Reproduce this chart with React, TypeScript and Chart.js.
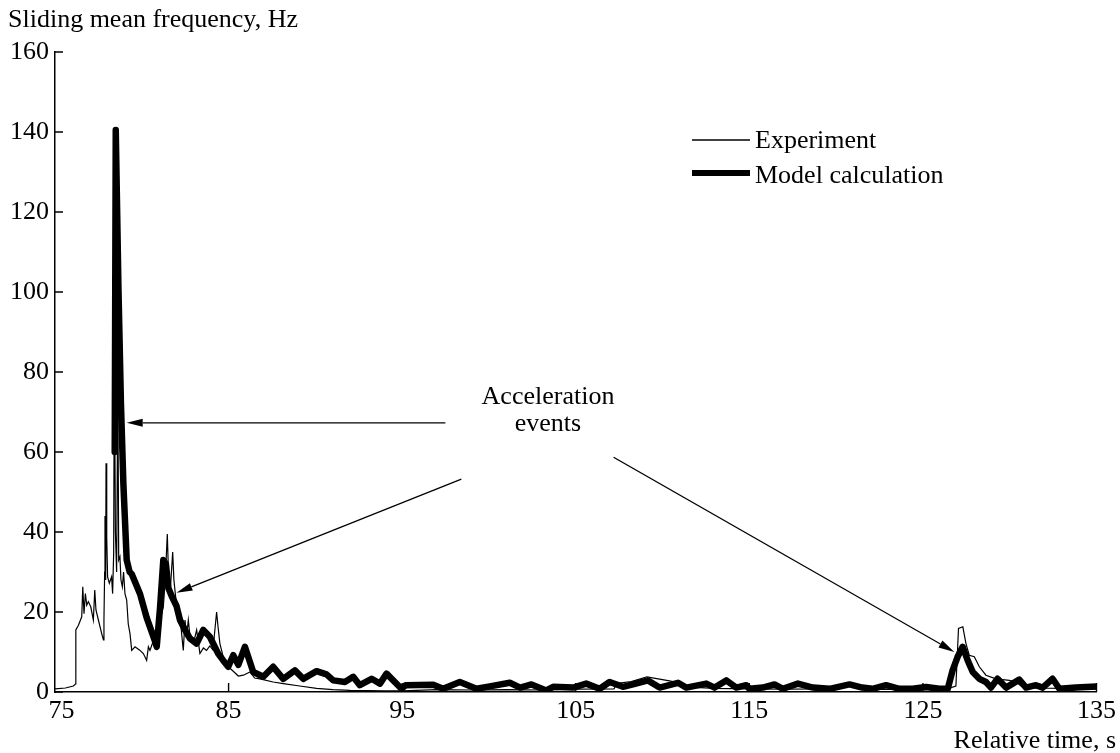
import React, { useEffect, useRef } from 'react';
import { Chart, registerables } from 'chart.js';

Chart.register(...registerables);

// ---------- data ----------
const expTime = [75, 75.6, 76.06, 76.18, 76.2, 76.35, 76.54, 76.6, 76.67, 76.75,
  76.83, 76.92, 77.06, 77.21, 77.29, 77.36, 77.5, 77.69, 77.79, 77.82,
  77.86, 77.88, 77.92, 77.94, 77.98, 78.03, 78.13, 78.26, 78.32, 78.38,
  78.42, 78.48, 78.55, 78.62, 78.67, 78.74, 78.8, 78.88, 78.95, 79.03,
  79.13, 79.22, 79.32, 79.42, 79.61, 79.9, 80.09, 80.28, 80.38, 80.47,
  80.6, 80.86, 81.05, 81.24, 81.35, 81.47, 81.55, 81.65, 81.78, 81.85,
  82.01, 82.2, 82.39, 82.49, 82.58, 82.68, 82.8, 82.97, 83.16, 83.35,
  83.55, 83.73, 83.92, 84.1, 84.31, 84.4, 84.5, 84.69, 84.98, 85.27,
  85.56, 85.85, 86.23, 86.5, 86.8, 87.57, 88.15, 89.1, 90.07, 91,
  92, 94, 95, 97, 99, 101, 103, 105, 107.2, 107.4,
  108.2, 109.1, 110.4, 111, 111.6, 113, 115, 117, 119, 120,
  120.6, 121.2, 121.9, 123, 125, 126.4, 126.9, 127.05, 127.3, 127.48,
  127.67, 127.96, 128.25, 128.63, 129.21, 129.98, 130.36, 130.7, 131.5, 133,
  135];
const expFreq = [0.8, 1, 1.5, 2, 15.5, 16.7, 18.8, 26.3, 19.6, 24.6,
  21.7, 22.6, 21.3, 18, 25.5, 20.5, 18, 14.6, 13, 18,
  30, 44, 28, 57.2, 38.8, 28.8, 27.2, 28.8, 24.6, 34.7,
  86, 40, 30, 77, 33, 33.8, 28, 26.3, 30, 24.6,
  23, 17, 14.6, 10.4, 11.3, 10.4, 9.6, 7.9, 11.3, 10.4,
  12, 14.6, 18, 21.3, 28, 39.5, 28, 26, 35, 28,
  21.3, 18.8, 10.4, 18, 13.8, 18, 13, 12.1, 15.5, 9.6,
  11, 10.4, 11.5, 10.5, 20, 16, 12.1, 8.8, 6.3, 5.2,
  4, 4.2, 5, 3.5, 3.3, 2.5, 2.1, 1.5, 0.9, 0.6,
  0.4, 0.3, 0.3, 0.6, 0.5, 0.6, 0.5, 0.7, 0.8, 2.2,
  2.6, 3.8, 2.8, 2.2, 1.2, 0.9, 0.8, 0.7, 0.8, 1,
  2.1, 1.3, 0.6, 0.7, 0.6, 0.8, 1.5, 15.9, 16.3, 12.1,
  9.2, 8.8, 6.3, 4.2, 3.3, 2.9, 2.5, 1.4, 1.0, 0.9,
  0.8];

const modelTime = [78.44, 78.5, 78.66, 78.8, 78.94, 79.13, 79.3, 79.42, 79.9, 80.28, 80.76,
  80.86, 81.05, 81.24, 81.39, 81.53, 81.72, 82.0, 82.2, 82.49, 82.77,
  83.16, 83.54, 83.92, 84.4, 84.69, 84.98, 85.27, 85.56, 85.94, 86.42,
  87.0, 87.57, 88.15, 88.82, 89.3, 90.07, 90.64, 91.03, 91.7, 92.18,
  92.56, 93.24, 93.72, 94.1, 94.96, 95.2, 96.79, 97.36, 98.32, 99.28,
  100.05, 101.2, 101.8, 102.45, 103.3, 103.7, 104.85, 105.6, 106.38, 106.95,
  107.72, 108.3, 109.16, 109.83, 110.89, 111.37, 112.52, 113.0, 113.67, 114.25,
  114.82, 115.0, 115.78, 116.45, 116.93, 117.8, 118.66, 119.62, 120.77, 121.5,
  122.1, 122.88, 123.64, 124.41, 125.18, 125.95, 126.43, 126.71, 127.0, 127.29,
  127.58, 127.87, 128.25, 128.63, 128.92, 129.3, 129.79, 130.55, 130.94, 131.51,
  131.9, 132.47, 132.86, 133.82, 135];
const modelFreq = [60, 140.5, 100, 72, 52, 33, 30, 29.5, 24.5, 18.6, 12.7,
  11.3, 21, 33, 32, 26, 24, 21.5, 18, 15.5, 13.4,
  12.1, 15.5, 13.8, 9.6, 7.9, 6.3, 9.2, 6.8, 11.3, 5,
  3.8, 6.3, 3.3, 5.4, 3.3, 5.2, 4.4, 2.9, 2.5, 3.8,
  1.7, 3.3, 2.1, 4.6, 0.8, 1.7, 1.8, 0.8, 2.5, 0.8,
  1.4, 2.3, 1.1, 1.9, 0.4, 1.3, 1.1, 2.1, 0.8, 2.5,
  1.3, 1.9, 2.9, 1.1, 2.3, 1.1, 2.1, 1.1, 2.9, 1.1,
  1.7, 0.8, 1.1, 1.9, 0.8, 2.1, 1.1, 0.8, 1.9, 1.1,
  0.8, 1.7, 0.8, 0.8, 1.25, 0.8, 0.8, 5.4, 8.8, 11.3,
  7.9, 5, 3.3, 2.5, 1.1, 3.3, 1.1, 3.1, 1.1, 1.7,
  1.1, 3.3, 0.8, 1.1, 1.4];

const xTicks = [75, 85, 95, 105, 115, 125, 135];
const yTicks = [0, 20, 40, 60, 80, 100, 120, 140, 160];
const seriesNames = ['Experiment', 'Model calculation'];
const yTitle = 'Sliding mean frequency, Hz';
const xTitle = 'Relative time, s';
const noteLines = ['Acceleration', 'events'];

// annotation geometry (data coordinates)
const noteAnchor = { x: 103.4, y1: 71.9, y2: 65.2 };
const arrows = [
  { from: [97.49, 67.3], to: [79.13, 67.3] },
  { from: [98.41, 53.2], to: [82.0, 24.8] },
  { from: [107.18, 58.7], to: [126.81, 10.0] },
];

const FONT = "'Liberation Serif', 'Times New Roman', serif";
const FS = 26;

const decorPlugin = {
  id: 'decor',
  afterDraw(chart: any) {
    const { ctx, chartArea } = chart;
    const xs = chart.scales.x;
    const ys = chart.scales.y;
    ctx.save();
    ctx.strokeStyle = '#000';
    ctx.fillStyle = '#000';
    ctx.lineWidth = 1.4;
    // inward tick marks
    ctx.beginPath();
    yTicks.forEach((v) => {
      const py = ys.getPixelForValue(v);
      ctx.moveTo(chartArea.left, py);
      ctx.lineTo(chartArea.left + 8, py);
    });
    xTicks.forEach((v) => {
      if (v === xTicks[0]) return;
      const px = xs.getPixelForValue(v);
      ctx.moveTo(px, chartArea.bottom);
      ctx.lineTo(px, chartArea.bottom - 9);
    });
    ctx.stroke();

    // axis titles
    ctx.font = `${FS}px ${FONT}`;
    ctx.textBaseline = 'alphabetic';
    ctx.textAlign = 'left';
    ctx.fillText(yTitle, 8, 27);
    ctx.textAlign = 'right';
    ctx.fillText(xTitle, 1116, 748);

    // legend
    ctx.textAlign = 'left';
    ctx.lineCap = 'butt';
    ctx.lineWidth = 1.3;
    ctx.beginPath();
    ctx.moveTo(692, 140);
    ctx.lineTo(750, 140);
    ctx.stroke();
    ctx.lineWidth = 6;
    ctx.beginPath();
    ctx.moveTo(692, 173);
    ctx.lineTo(750, 173);
    ctx.stroke();
    ctx.fillText(seriesNames[0], 755, 148);
    ctx.fillText(seriesNames[1], 755, 183);

    // annotation text
    ctx.textAlign = 'center';
    const nx = xs.getPixelForValue(noteAnchor.x);
    ctx.fillText(noteLines[0], nx, ys.getPixelForValue(noteAnchor.y1));
    ctx.fillText(noteLines[1], nx, ys.getPixelForValue(noteAnchor.y2));

    // arrows
    ctx.lineWidth = 1.3;
    arrows.forEach((a) => {
      const x1 = xs.getPixelForValue(a.from[0]);
      const y1 = ys.getPixelForValue(a.from[1]);
      const x2 = xs.getPixelForValue(a.to[0]);
      const y2 = ys.getPixelForValue(a.to[1]);
      const ang = Math.atan2(y2 - y1, x2 - x1);
      const L = 16;
      const W = 4;
      const bx = x2 - L * Math.cos(ang);
      const by = y2 - L * Math.sin(ang);
      ctx.beginPath();
      ctx.moveTo(x1, y1);
      ctx.lineTo(bx, by);
      ctx.stroke();
      ctx.beginPath();
      ctx.moveTo(x2, y2);
      ctx.lineTo(bx + W * Math.sin(ang), by - W * Math.cos(ang));
      ctx.lineTo(bx - W * Math.sin(ang), by + W * Math.cos(ang));
      ctx.closePath();
      ctx.fill();
    });
    ctx.restore();
  },
};

export default function App() {
  const ref = useRef<HTMLCanvasElement | null>(null);

  useEffect(() => {
    if (!ref.current) return;
    const expData = expTime.map((t, i) => ({ x: t, y: expFreq[i] }));
    const modelData = modelTime.map((t, i) => ({ x: t, y: modelFreq[i] }));
    const tickFont = { family: FONT, size: FS };
    const chart = new Chart(ref.current, {
      type: 'line',
      data: {
        datasets: [
          {
            label: seriesNames[0],
            data: expData,
            borderColor: '#000',
            borderWidth: 1.2,
            pointRadius: 0,
            tension: 0,
            fill: false,
          },
          {
            label: seriesNames[1],
            data: modelData,
            borderColor: '#000',
            borderWidth: 6.5,
            borderJoinStyle: 'round',
            borderCapStyle: 'round',
            pointRadius: 0,
            tension: 0,
            fill: false,
          },
        ],
      },
      options: {
        animation: false,
        responsive: false,
        maintainAspectRatio: false,
        layout: { padding: { top: 52, right: 22, left: 0, bottom: 0 } },
        plugins: {
          legend: { display: false },
          tooltip: { enabled: false },
        },
        scales: {
          x: {
            type: 'linear',
            min: 75,
            max: 135,
            afterBuildTicks: (s: any) => {
              s.ticks = xTicks.map((value) => ({ value }));
            },
            afterFit: (s: any) => {
              s.height = 61;
            },
            grid: { display: false, drawTicks: false },
            border: { display: true, color: '#000', width: 1.5 },
            ticks: {
              color: '#000',
              font: tickFont,
              padding: 4,
              maxRotation: 0,
              autoSkip: false,
              callback: (v: any) => (v === xTicks[0] ? '\u2007' + String(v) : String(v)),
            },
          },
          y: {
            type: 'linear',
            min: 0,
            max: 160,
            afterBuildTicks: (s: any) => {
              s.ticks = yTicks.map((value) => ({ value }));
            },
            afterFit: (s: any) => {
              s.width = 55;
            },
            grid: { display: false, drawTicks: false },
            border: { display: true, color: '#000', width: 1.5 },
            ticks: {
              color: '#000',
              font: tickFont,
              padding: 6,
              autoSkip: false,
            },
          },
        },
      },
      plugins: [decorPlugin],
    } as any);
    return () => chart.destroy();
  }, []);

  return (
    <div style={{ position: 'absolute', left: 0, top: 0, width: 1120, height: 753, background: '#fff' }}>
      <canvas ref={ref} width={1120} height={753} />
    </div>
  );
}
